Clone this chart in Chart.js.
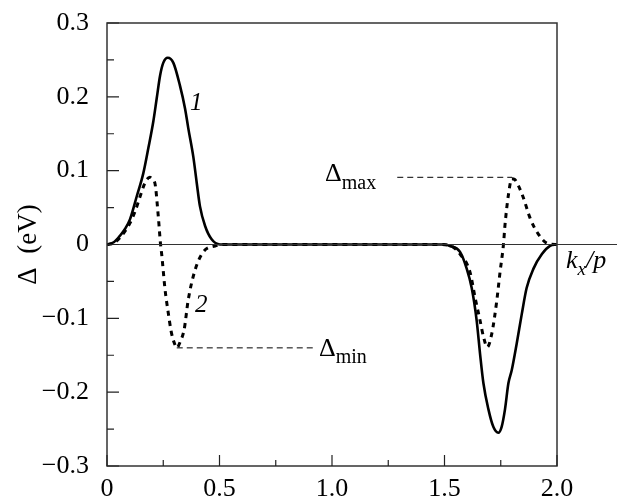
<!DOCTYPE html>
<html><head><meta charset="utf-8">
<script src="https://cdn.jsdelivr.net/npm/chart.js@4"></script>
<style>html,body{margin:0;padding:0;background:#fff}#wrap{width:617px;height:500px;position:relative}</style>
</head><body><div id="wrap"><canvas id="c" width="617" height="500"></canvas></div>
<script>
// Curve 1 (solid)
const curve1X = [0,0.03,0.058,0.08,0.102,0.132,0.161,0.184,0.206,0.221,0.236,0.25,0.27,0.295,0.324,0.347,0.361,0.384,0.399,0.413,0.436,0.465,0.502,0.55,1.45,1.5,1.524,1.569,1.599,1.621,1.643,1.658,1.673,1.695,1.717,1.739,1.754,1.769,1.784,1.799,1.821,1.843,1.865,1.895,1.933,1.969,2.0];
const curve1Y = [0,0.003,0.012,0.021,0.034,0.065,0.096,0.131,0.167,0.198,0.229,0.246,0.253,0.246,0.2155,0.184,0.158,0.118,0.083,0.052,0.025,0.007,0,0,0,0,-0.002,-0.010,-0.033,-0.059,-0.103,-0.148,-0.188,-0.223,-0.247,-0.255,-0.247,-0.223,-0.188,-0.17,-0.134,-0.095,-0.059,-0.033,-0.013,-0.002,0];
// Curve 2 (dotted)
const curve2X = [0,0.03,0.06,0.102,0.125,0.147,0.168,0.19,0.2,0.213,0.228,0.238,0.243,0.258,0.272,0.286,0.3,0.31,0.325,0.343,0.361,0.391,0.428,0.48,0.52,1.48,1.53,1.569,1.613,1.636,1.658,1.674,1.69,1.71,1.732,1.747,1.762,1.769,1.784,1.799,1.812,1.828,1.851,1.88,1.917,1.961,2.0];
const curve2Y = [0,0.002,0.01,0.029,0.045,0.065,0.083,0.091,0.089,0.083,0.038,0.0,-0.013,-0.061,-0.092,-0.119,-0.134,-0.14,-0.132,-0.115,-0.075,-0.035,-0.01,-0.002,0,0,-0.002,-0.013,-0.037,-0.072,-0.103,-0.126,-0.139,-0.121,-0.077,-0.037,0,0.027,0.067,0.089,0.088,0.08,0.063,0.036,0.014,0.001,0];
// Ticks
const xTickValues = [0,0.5,1.0,1.5,2.0];
const xTickLabels = ['0','0.5','1.0','1.5','2.0'];
const yTickValues = [-0.3,-0.2,-0.1,0,0.1,0.2,0.3];
const yTickLabels = ['\u22120.3','\u22120.2','\u22120.1','0','0.1','0.2','0.3'];
const xMinorTicks = [0.25,0.75,1.25,1.75];
const yMinorTicks = [-0.25,-0.15,-0.05,0.05,0.15,0.25];
// Annotations
const deltaMax = 0.091, deltaMaxFromX = 1.29, deltaMaxToX = 1.8;
const deltaMin = -0.14, deltaMinFromX = 0.31, deltaMinToX = 0.916;

const SERIF = '"Liberation Serif"';

const decor = {
  id: 'decor',
  afterDraw(chart) {
    const {ctx, chartArea: a, scales: {x, y}} = chart;
    ctx.save();
    const y0 = y.getPixelForValue(0);
    ctx.strokeStyle = '#333'; ctx.lineWidth = 1;
    ctx.beginPath(); ctx.moveTo(a.left, y0); ctx.lineTo(chart.width, y0); ctx.stroke();
    ctx.strokeStyle = '#333'; ctx.lineWidth = 1.5;
    ctx.strokeRect(a.left, a.top, a.right - a.left, a.bottom - a.top);
    ctx.lineWidth = 1.2; ctx.strokeStyle = '#222';
    ctx.beginPath();
    yTickValues.forEach(v => { const p = y.getPixelForValue(v); ctx.moveTo(a.left, p); ctx.lineTo(a.left + 12, p); });
    yMinorTicks.forEach(v => { const p = y.getPixelForValue(v); ctx.moveTo(a.left, p); ctx.lineTo(a.left + 7, p); });
    xTickValues.forEach(v => { const p = x.getPixelForValue(v); ctx.moveTo(p, a.bottom); ctx.lineTo(p, a.bottom - 11); });
    xMinorTicks.forEach(v => { const p = x.getPixelForValue(v); ctx.moveTo(p, a.bottom); ctx.lineTo(p, a.bottom - 6); });
    ctx.stroke();
    ctx.lineWidth = 1; ctx.strokeStyle = '#000'; ctx.setLineDash([6, 4]);
    ctx.beginPath();
    let py = y.getPixelForValue(deltaMax);
    ctx.moveTo(x.getPixelForValue(deltaMaxFromX), py); ctx.lineTo(x.getPixelForValue(deltaMaxToX), py);
    py = y.getPixelForValue(deltaMin);
    ctx.moveTo(x.getPixelForValue(deltaMinFromX), py); ctx.lineTo(x.getPixelForValue(deltaMinToX), py);
    ctx.stroke();
    ctx.setLineDash([]);
    ctx.fillStyle = '#000'; ctx.textBaseline = 'alphabetic'; ctx.textAlign = 'left';
    const txt = (s, px, py, size, italic) => { ctx.font = (italic ? 'italic ' : '') + size + 'px ' + SERIF; ctx.fillText(s, px, py); return ctx.measureText(s).width; };
    let xx = 325, w;
    w = txt('\u0394', xx, 181, 26, false);
    txt('max', xx + w, 189, 20, false);
    xx = 319;
    w = txt('\u0394', xx, 356, 26, false);
    txt('min', xx + w, 363, 20, false);
    txt('1', 190, 110, 25, true);
    txt('2', 195, 312, 25, true);
    xx = 566;
    w = txt('k', xx, 268, 26, true); xx += w;
    w = txt('x', xx, 275, 19, true); xx += w;
    txt('/p', xx, 268, 26, true);
    ctx.restore();
  }
};

Chart.defaults.font.family = SERIF;

new Chart(document.getElementById('c'), {
  type: 'line',
  data: {
    datasets: [
      { label: '1', data: curve1X.map((v, i) => ({x: v, y: curve1Y[i]})), borderColor: '#000', borderWidth: 2.6, pointRadius: 0, cubicInterpolationMode: 'monotone', fill: false },
      { label: '2', data: curve2X.map((v, i) => ({x: v, y: curve2Y[i]})), borderColor: '#000', borderWidth: 3, borderDash: [5, 5], pointRadius: 0, cubicInterpolationMode: 'monotone', fill: false }
    ]
  },
  options: {
    responsive: false, animation: false, devicePixelRatio: 1,
    layout: { padding: { left: 0, top: 15, right: 60, bottom: 0 } },
    plugins: { legend: { display: false }, tooltip: { enabled: false } },
    scales: {
      x: {
        type: 'linear', min: 0, max: 2,
        grid: { display: false }, border: { display: false },
        afterBuildTicks: s => { s.ticks = xTickValues.map(v => ({value: v})); },
        afterFit: s => { s.height = 34; },
        ticks: { autoSkip: false, maxRotation: 0, padding: 2, color: '#000', font: { family: SERIF, size: 26, lineHeight: 1 },
          callback: (v) => { const i = xTickValues.findIndex(t => Math.abs(t - v) < 1e-9); return i >= 0 ? xTickLabels[i] : ''; } }
      },
      y: {
        type: 'linear', min: -0.3, max: 0.3,
        grid: { display: false }, border: { display: false },
        afterBuildTicks: s => { s.ticks = yTickValues.map(v => ({value: v})); },
        afterFit: s => { s.width = 107; },
        ticks: { autoSkip: false, padding: 10, color: '#000', font: { family: SERIF, size: 26, lineHeight: 1 },
          callback: (v) => { const i = yTickValues.findIndex(t => Math.abs(t - v) < 1e-9); return i >= 0 ? yTickLabels[i] : ''; } },
        title: { display: true, text: '\u0394  (eV)', color: '#000', font: { family: SERIF, size: 27 }, padding: { top: 13, bottom: 0 } }
      }
    }
  },
  plugins: [decor]
});
</script>
</body></html>
